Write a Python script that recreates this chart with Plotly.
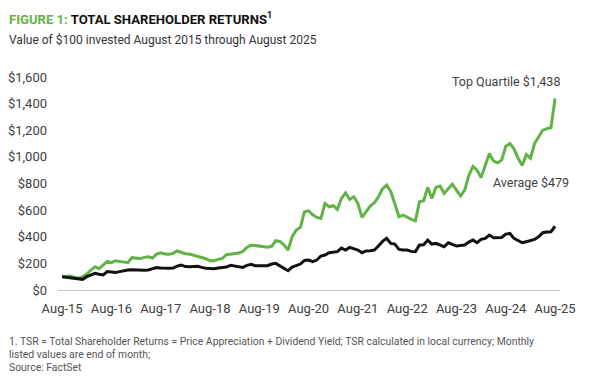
import plotly.graph_objects as go

months = list(range(121))
tick_vals = [0, 12, 24, 36, 48, 60, 72, 84, 96, 108, 120]
tick_text = ["Aug-15", "Aug-16", "Aug-17", "Aug-18", "Aug-19", "Aug-20",
             "Aug-21", "Aug-22", "Aug-23", "Aug-24", "Aug-25"]

top_quartile = [
    100, 104, 105, 95, 88, 100, 120, 150, 175, 160, 185, 215, 205, 220, 215, 210,
    205, 243, 238, 236, 245, 250, 240, 270, 280, 270, 268, 275, 293, 285, 272, 270,
    262, 255, 248, 235, 220, 220, 230, 238, 265, 268, 270, 278, 290, 320, 338, 333,
    330, 325, 322, 328, 370, 365, 340, 300, 400, 450, 470, 588, 595, 565, 545, 538,
    650, 625, 633, 605, 688, 730, 680, 700, 650, 545, 588, 630, 655, 700, 760, 788,
    740, 650, 550, 563, 545, 530, 520, 663, 670, 771, 688, 771, 781, 725, 760, 795,
    750, 706, 750, 860, 928, 900, 845, 940, 1025, 970, 955, 976, 1080, 1100, 1060, 990,
    935, 1018, 990, 1100, 1155, 1200, 1212, 1219, 1438]

average = [
    100, 95, 90, 88, 82, 80, 100, 113, 125, 118, 113, 138, 135, 132, 138, 145,
    150, 152, 150, 148, 149, 150, 160, 168, 165, 163, 164, 165, 180, 188, 176, 175,
    178, 178, 170, 163, 162, 160, 165, 170, 172, 185, 180, 172, 170, 185, 193, 182,
    180, 182, 183, 195, 200, 180, 165, 145, 172, 185, 195, 222, 225, 213, 225, 255,
    263, 280, 285, 288, 315, 300, 320, 310, 300, 280, 293, 295, 300, 330, 365, 388,
    350, 345, 305, 300, 300, 290, 288, 338, 340, 375, 345, 350, 340, 325, 355, 345,
    330, 335, 338, 360, 375, 355, 380, 388, 413, 393, 394, 395, 420, 425, 388, 370,
    355, 363, 372, 380, 400, 430, 436, 438, 479]

y_ticks = [0, 200, 400, 600, 800, 1000, 1200, 1400, 1600]
y_tick_text = ["$0", "$200", "$400", "$600", "$800", "$1,000", "$1,200", "$1,400", "$1,600"]

GREEN = "#62b346"
FONT = "Roboto"

# page body has an 8px offset; figure sized so it fits the window
OFF = 8
W, H = 592, 369
L, R, T, B = 50, 40, 69, 87
PW, PH = W - L - R, H - T - B

fig = go.Figure()
fig.add_trace(go.Scatter(x=months, y=top_quartile, mode="lines",
                         line=dict(color=GREEN, width=3), hoverinfo="skip"))
fig.add_trace(go.Scatter(x=months, y=average, mode="lines",
                         line=dict(color="#111111", width=3), hoverinfo="skip"))

fig.update_layout(
    width=W, height=H,
    margin=dict(l=L, r=R, t=T, b=B, pad=0),
    paper_bgcolor="white", plot_bgcolor="white",
    showlegend=False,
    font=dict(family=FONT, size=13, color="#404040"),
    xaxis=dict(range=[-1, 121.2], tickvals=tick_vals, ticktext=tick_text,
               showgrid=False, zeroline=False, showline=True, automargin=False,
               linecolor="#c8c8c8", linewidth=1, ticks="",
               tickfont=dict(size=13, color="#404040"), ticklabelstandoff=6),
    yaxis=dict(range=[0, 1600], tickvals=y_ticks, ticktext=y_tick_text,
               showgrid=False, zeroline=False, showline=False, ticks="",
               automargin=False,
               tickfont=dict(size=13, color="#404040"), ticklabelstandoff=10),
)


def px_x(sx):
    return (sx - OFF - L) / PW


def px_y(sy):
    return (H - B - (sy - OFF)) / PH


annos = [
    dict(x=px_x(7), y=px_y(18), xanchor="left", yanchor="middle",
         text=f"<b><span style='color:{GREEN}'>FIGURE 1:</span> TOTAL SHAREHOLDER RETURNS<sup>1</sup></b>",
         font=dict(size=13.1, color="#111111", family=FONT)),
    dict(x=px_x(7), y=px_y(40), xanchor="left", yanchor="middle",
         text="Value of $100 invested August 2015 through August 2025",
         font=dict(size=12, color="#333333", family=FONT)),
    dict(x=px_x(562), y=px_y(81), xanchor="right", yanchor="middle",
         text="Top Quartile $1,438", font=dict(size=12.5, color="#404040", family=FONT)),
    dict(x=px_x(571), y=px_y(182), xanchor="right", yanchor="middle",
         text="Average $479", font=dict(size=12.5, color="#404040", family=FONT)),
    dict(x=px_x(7), y=px_y(341), xanchor="left", yanchor="middle",
         text="1. TSR = Total Shareholder Returns = Price Appreciation + Dividend Yield; TSR calculated in local currency; Monthly",
         font=dict(size=10.4, color="#555555", family=FONT)),
    dict(x=px_x(7), y=px_y(354), xanchor="left", yanchor="middle",
         text="listed values are end of month;",
         font=dict(size=10.4, color="#555555", family=FONT)),
    dict(x=px_x(7), y=px_y(367), xanchor="left", yanchor="middle",
         text="Source: FactSet",
         font=dict(size=10.4, color="#555555", family=FONT)),
]
for a in annos:
    a.update(xref="paper", yref="paper", showarrow=False)
    fig.add_annotation(**a)

fig.write_html("out.html")
